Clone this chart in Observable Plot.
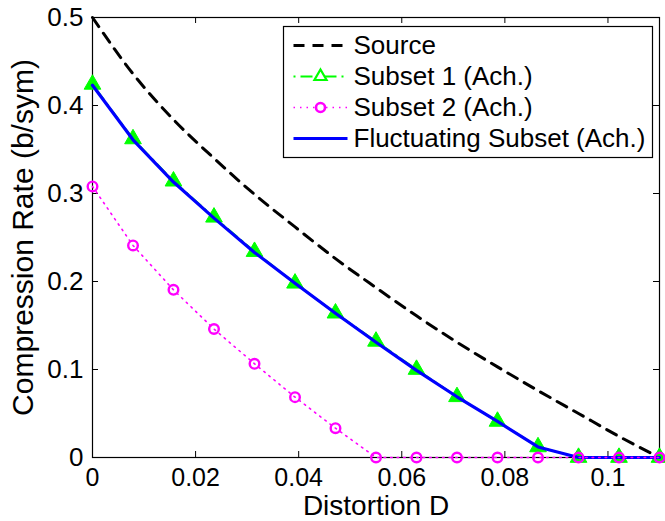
<!DOCTYPE html>
<html><head><meta charset="utf-8">
<script src="https://cdn.jsdelivr.net/npm/d3@7"></script>
<script src="https://cdn.jsdelivr.net/npm/@observablehq/plot@0.6"></script>
<style>html,body{margin:0;padding:0;background:#fff;}</style>
</head><body><div id="chart"></div>
<script>
const distortion = [0, 0.00786, 0.01571, 0.02357, 0.03143, 0.03929, 0.04714, 0.055, 0.06286, 0.07071, 0.07857, 0.08643, 0.09429, 0.10214, 0.11];
const sourceRate = [0.5, 0.436, 0.384, 0.340, 0.299, 0.262, 0.226, 0.193, 0.161, 0.131, 0.103, 0.076, 0.050, 0.024, 0];
const subset1Rate = [0.424, 0.362, 0.314, 0.273, 0.234, 0.198, 0.164, 0.132, 0.100, 0.069, 0.041, 0.012, 0, 0, 0];
const subset2Rate = [0.308, 0.241, 0.1905, 0.146, 0.1065, 0.0686, 0.0333, 0, 0, 0, 0, 0, 0, 0, 0];
const fluctuatingRate = [0.423, 0.361, 0.313, 0.272, 0.233, 0.198, 0.164, 0.131, 0.099, 0.069, 0.041, 0.012, 0, 0, 0];
const xTicks = [0, 0.02, 0.04, 0.06, 0.08, 0.1];
const yTicks = [0, 0.1, 0.2, 0.3, 0.4, 0.5];
const legendLabels = ["Source", "Subset 1 (Ach.)", "Subset 2 (Ach.)", "Fluctuating Subset (Ach.)"];
const xLabel = "Distortion D";
const yLabel = "Compression Rate (b/sym)";

const rows = (ys) => distortion.map((d, i) => ({d, r: ys[i]}));
const FONT = "Liberation Sans, Arial, Helvetica, sans-serif";
const fmt = (v) => String(v);

const legendStyles = [
  {stroke: "#000000", strokeWidth: 3, dash: "11,8", marker: null},
  {stroke: "#00ff00", strokeWidth: 2, dash: "2,5,12,5", marker: "triangle"},
  {stroke: "#ff00ff", strokeWidth: 1.6, dash: "1.5,5", marker: "circle"},
  {stroke: "#0000ff", strokeWidth: 3.2, dash: null, marker: null}
];
const legendLine = {draw(ctx) { ctx.moveTo(-27, 0); ctx.lineTo(27, 0); }};

const legendMarks = [];
legendLabels.forEach((label, i) => {
  const s = legendStyles[i];
  const dy = 28 + i * 31;
  legendMarks.push(Plot.dot([label], {frameAnchor: "top-left", dx: 228, dy, symbol: legendLine, fill: "none", stroke: s.stroke, strokeWidth: s.strokeWidth, strokeDasharray: s.dash ?? undefined}));
  if (s.marker === "triangle") legendMarks.push(Plot.dot([label], {frameAnchor: "top-left", dx: 228, dy, symbol: "triangle", r: 4.5, fill: "white", stroke: s.stroke, strokeWidth: 2.2}));
  if (s.marker === "circle") legendMarks.push(Plot.dot([label], {frameAnchor: "top-left", dx: 228, dy, symbol: "circle", r: 4.5, fill: "white", stroke: s.stroke, strokeWidth: 2.6}));
  legendMarks.push(Plot.text([label], {frameAnchor: "top-left", dx: 261, dy, textAnchor: "start", lineAnchor: "middle", fontSize: 26, fill: "black"}));
});

const chart = Plot.plot({
  width: 665,
  height: 521,
  marginLeft: 92,
  marginRight: 6,
  marginTop: 17,
  marginBottom: 64,
  style: {fontFamily: FONT, background: "white", color: "black", overflow: "visible"},
  x: {domain: [0, 0.11]},
  y: {domain: [0, 0.5]},
  marks: [
    Plot.frame({stroke: "black", strokeWidth: 1.2}),
    Plot.tickX(xTicks, {x: d => d, insetTop: 434, stroke: "black", strokeWidth: 1}),
    Plot.tickX(xTicks, {x: d => d, insetBottom: 434, stroke: "black", strokeWidth: 1}),
    Plot.tickY(yTicks, {y: d => d, insetRight: 561, stroke: "black", strokeWidth: 1}),
    Plot.tickY(yTicks, {y: d => d, insetLeft: 561, stroke: "black", strokeWidth: 1}),
    Plot.axisX(xTicks, {tickSize: 0, tickPadding: 11, tickFormat: fmt, fontSize: 25, label: null}),
    Plot.axisY(yTicks, {tickSize: 0, tickPadding: 9, tickFormat: fmt, fontSize: 26, label: null}),
    Plot.text([xLabel], {frameAnchor: "bottom", dy: 57, textAnchor: "middle", lineAnchor: "bottom", fontSize: 28, fill: "black"}),
    Plot.text([yLabel], {frameAnchor: "left", dx: -60, rotate: -90, textAnchor: "middle", lineAnchor: "bottom", fontSize: 30, fill: "black"}),
    Plot.line(rows(sourceRate), {x: "d", y: "r", stroke: "#000000", strokeWidth: 3, strokeDasharray: "11,8", curve: "monotone-x"}),
    Plot.line(rows(subset1Rate), {x: "d", y: "r", stroke: "#00ff00", strokeWidth: 2, strokeDasharray: "2,5,12,5"}),
    Plot.dot(rows(subset1Rate), {x: "d", y: "r", symbol: "triangle", r: 6.2, fill: "#00ff00", stroke: "#00ff00", strokeWidth: 1}),
    Plot.line(rows(fluctuatingRate), {x: "d", y: "r", stroke: "#0000ff", strokeWidth: 3.2}),
    Plot.line(rows(subset2Rate), {x: "d", y: "r", stroke: "#ff00ff", strokeWidth: 1.6, strokeDasharray: "1.5,5"}),
    Plot.dot(rows(subset2Rate), {x: "d", y: "r", symbol: "circle", r: 4.8, fill: "none", stroke: "#ff00ff", strokeWidth: 2.4}),
    Plot.frame({insetLeft: 191, insetTop: 9, insetRight: 7, insetBottom: 300, fill: "white", stroke: "black", strokeWidth: 1.2}),
    ...legendMarks
  ]
});
document.getElementById("chart").appendChild(chart);
</script>
</body></html>
